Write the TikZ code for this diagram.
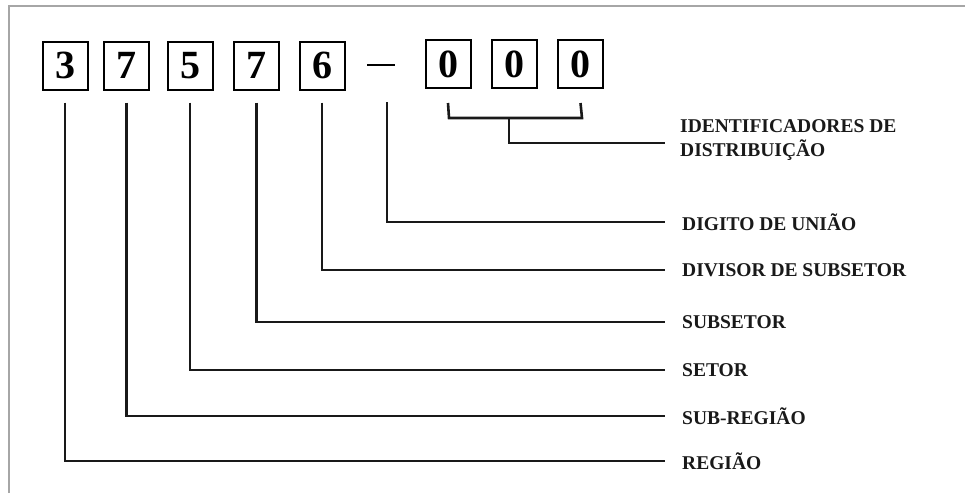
\documentclass[tikz,border=0pt]{standalone}
\usepackage{fontspec}
\setmainfont{Liberation Serif}
\begin{document}
\begin{tikzpicture}[x=1pt,y=-1pt,
  digit/.style={draw=black,line width=2pt,minimum width=45pt,minimum height=48pt,
    inner sep=0pt,font=\fontsize{40}{40}\selectfont\bfseries},
  lead/.style={line width=2.6pt,black!90},
  lbl/.style={anchor=west,inner sep=0pt,align=left,text=black!90,
    font=\fontsize{19.5}{24}\selectfont\bfseries}]
\useasboundingbox (0,0) rectangle (965,493);
% outer frame
\draw[gray!70,line width=1.3pt] (9,493) -- (9,6) -- (965,6);
% code digits
\node[digit] (d1) at (65,65.5) {3};
\node[digit] (d2) at (126.5,65.5) {7};
\node[digit] (d3) at (190,65.5) {5};
\node[digit] (d4) at (256.5,65.5) {7};
\node[digit] (d5) at (322,65.5) {6};
\coordinate (dash) at (387,65);
\draw[line width=2pt] (367,65) -- (395,65);
\node[digit] (z1) at (448,64) {0};
\node[digit] (z2) at (514,64) {0};
\node[digit] (z3) at (580.5,64) {0};
% labels
\node[lbl] (lid) at (680,140) {IDENTIFICADORES DE\\DISTRIBUIÇÃO};
\node[lbl] (ldu) at (682,222) {DIGITO DE UNIÃO};
\node[lbl] (lds) at (682,270) {DIVISOR DE SUBSETOR};
\node[lbl] (lsu) at (682,322) {SUBSETOR};
\node[lbl] (lse) at (682,370) {SETOR};
\node[lbl] (lsr) at (682,416) {SUB-REGIÃO};
\node[lbl] (lre) at (682,461) {REGIÃO};
% leaders
\draw[lead] (d1.south) ++(0,12) |- ([xshift=-17pt]lre.west);
\draw[lead] (d2.south) ++(0,12) |- ([xshift=-17pt]lsr.west);
\draw[lead] (d3.south) ++(0,12) |- ([xshift=-17pt]lse.west);
\draw[lead] (d4.south) ++(0,12) |- ([xshift=-17pt]lsu.west);
\draw[lead] (d5.south) ++(0,12) |- ([xshift=-17pt]lds.west);
\draw[lead] (dash) ++(0,37) |- ([xshift=-17pt]ldu.west);
% bracket under the distribution digits
\coordinate (bm) at (509,118);
\draw[lead] ([yshift=-14pt]z1.south) -- (449,118) -- (582,118) -- ([yshift=-14pt]z3.south);
\draw[lead] (bm) |- ([xshift=-15pt,yshift=-3pt]lid.west);
\end{tikzpicture}
\end{document}
